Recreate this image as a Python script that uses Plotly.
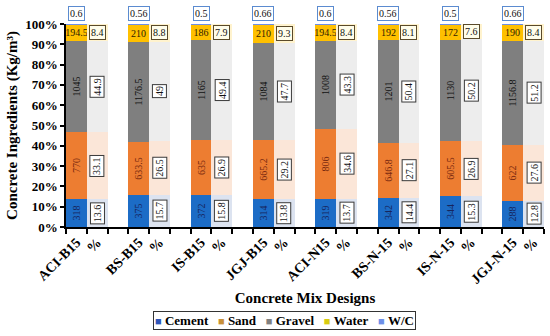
import plotly.graph_objects as go
import numpy as np

# ---- data ----
mixes = ["ACI-B15", "BS-B15", "IS-B15", "JGJ-B15", "ACI-N15", "BS-N-15", "IS-N-15", "JGJ-N-15"]
cement = [318, 375, 372, 314, 319, 342, 344, 288]
sand = [770, 633.5, 635, 665.2, 806, 646.8, 605.5, 622]
gravel = [1045, 1176.5, 1165, 1084, 1008, 1201, 1130, 1156.8]
water = [194.5, 210, 186, 210, 194.5, 192, 172, 190]
wc = [0.6, 0.56, 0.5, 0.66, 0.6, 0.56, 0.5, 0.66]
cement_pct = [13.6, 15.7, 15.8, 13.8, 13.7, 14.4, 15.3, 12.8]
sand_pct = [33.1, 26.5, 26.9, 29.2, 34.6, 27.1, 26.9, 27.6]
gravel_pct = [44.9, 49, 49.4, 47.7, 43.3, 50.4, 50.2, 51.2]
water_pct = [8.4, 8.8, 7.9, 9.3, 8.4, 8.1, 7.6, 8.4]
series_names = ["Cement", "Sand", "Gravel", "Water", "W/C"]
pct_label = "%"

FONT = "Liberation Serif"
n = len(mixes)
x_mix = [3 * i for i in range(n)]
x_pct = [3 * i + 1 for i in range(n)]

raw = np.array([cement, sand, gravel, water, wc], dtype=float)
total = raw.sum(axis=0)
norm = raw / total * 100

colors = ["#1C6CC6", "#ED7D31", "#7F7F7F", "#FFC000", "#6E8FE8"]
text_colors = ["#17265E", "#7A2A10", "#111111", "#2E2200"]
light_colors = ["#DCE3F0", "#FBE6D8", "#EDEDED", "#FFF3CE"]
legend_marks = ["#2E55B8", "#C89038", "#808080", "#D8CC10", "#6E8FE8"]

fig = go.Figure()

values = [cement, sand, gravel, water]
for k in range(4):
    fig.add_trace(go.Bar(
        x=x_mix, y=norm[k], name=series_names[k], showlegend=False,
        marker=dict(color=colors[k], line=dict(width=0)),
        text=[f"{v:g}" for v in values[k]], textposition="inside", insidetextanchor="middle",
        textangle=0 if k == 3 else -90, constraintext="none",
        textfont=dict(family=FONT, size=10, color=text_colors[k]), hoverinfo="skip",
    ))
fig.add_trace(go.Bar(
    x=x_mix, y=norm[4], name=series_names[4], showlegend=False,
    marker=dict(color=colors[4], line=dict(width=0)), hoverinfo="skip",
))

pcts = [cement_pct, sand_pct, gravel_pct, water_pct]
for k in range(4):
    fig.add_trace(go.Bar(
        x=x_pct, y=pcts[k], name=series_names[k] + " %", showlegend=False,
        marker=dict(color=light_colors[k], line=dict(width=0)), hoverinfo="skip",
    ))

annotations = []
pct_arr = np.array(pcts, dtype=float)
cum = np.cumsum(pct_arr, axis=0)
mid = cum - pct_arr / 2
for i in range(n):
    for k in range(4):
        horiz = (k == 3)
        annotations.append(dict(
            x=x_pct[i], y=mid[k, i], xref="x", yref="y", text=f"{pct_arr[k, i]:g}",
            showarrow=False, textangle=0 if horiz else -90,
            font=dict(family=FONT, size=10, color="#111111"),
            bgcolor="#FFFDEA" if horiz else "#FFFFFF",
            bordercolor="#5A4A2A" if horiz else "#3A3A3A", borderwidth=1, borderpad=1,
        ))
    annotations.append(dict(
        x=x_mix[i], y=100, xref="x", yref="y", yanchor="bottom", yshift=3,
        text=f"{wc[i]:g}", showarrow=False,
        font=dict(family=FONT, size=10, color="#111111"),
        bgcolor="#FFFFFF", bordercolor="#5B8BD0", borderwidth=1, borderpad=1,
    ))

# legend box (series key)
sep = "\u00a0\u00a0\u00a0"
legend_text = sep.join(
    f"<span style='color:{c};font-size:11px'>\u25a0</span>\u00a0{name}"
    for name, c in zip(series_names, legend_marks)
)
annotations.append(dict(
    x=0.458, y=-0.463, xref="paper", yref="paper", xanchor="center", yanchor="middle",
    text=legend_text, showarrow=False,
    font=dict(family=FONT, size=13, weight="bold", color="black"),
    bordercolor="#333333", borderwidth=1, borderpad=1, bgcolor="white",
))

tickvals = x_mix + x_pct
ticktext = mixes + [pct_label] * n

fig.update_layout(
    width=550, height=336,
    margin=dict(l=66, r=6, t=24, b=109),
    barmode="stack", bargap=0, showlegend=False,
    plot_bgcolor="white", paper_bgcolor="white",
    font=dict(family=FONT, color="black"),
    annotations=annotations,
    xaxis=dict(
        range=[-0.5, 22.5], tickmode="array", tickvals=tickvals, ticktext=ticktext,
        tickangle=-45, ticks="", showgrid=False, zeroline=False,
        showline=True, linecolor="black", linewidth=1.5,
        tickfont=dict(family=FONT, size=14, weight="bold"),
        minor=dict(tick0=-0.5, dtick=1, ticks="outside", ticklen=5, tickcolor="black", tickwidth=1.5),
        title=dict(text="Concrete Mix Designs", font=dict(family=FONT, size=15, weight="bold"), standoff=7),
    ),
    yaxis=dict(
        range=[0, 100], tickmode="linear", tick0=0, dtick=10, ticksuffix="%",
        ticks="outside", ticklen=4, tickcolor="black", tickwidth=1.5,
        showgrid=False, zeroline=False, showline=True, linecolor="black", linewidth=1.5,
        tickfont=dict(family=FONT, size=13, weight="bold"),
        title=dict(text="Concrete Ingredients (Kg/m³)", font=dict(family=FONT, size=15, weight="bold"), standoff=4),
    ),
)

fig.write_html("out.html", config={"displayModeBar": False},
               post_script="document.body.style.margin='0';document.body.style.padding='0';")
